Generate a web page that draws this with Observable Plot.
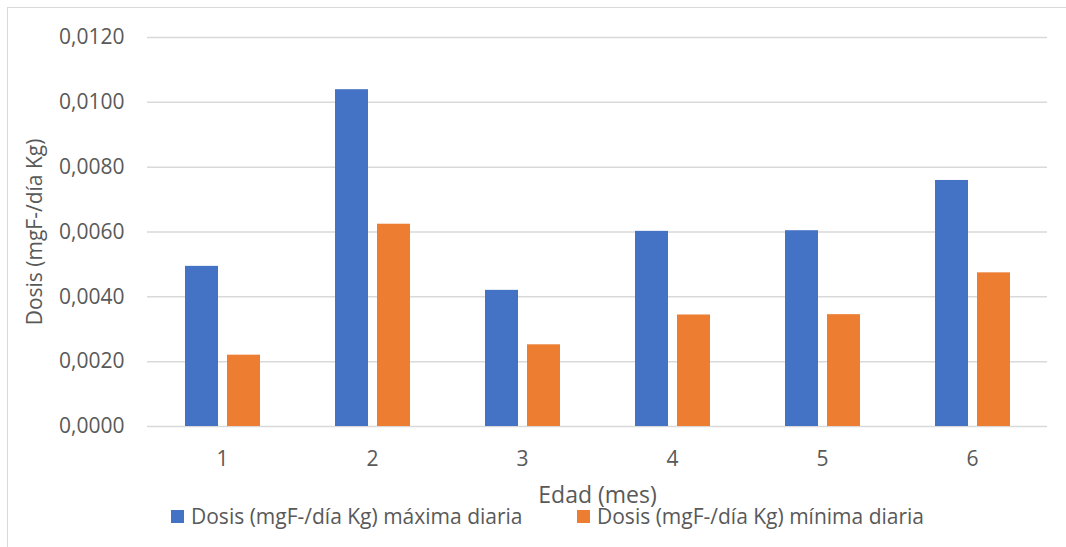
<!DOCTYPE html>
<html>
<head>
<meta charset="utf-8">
<script src="https://cdn.jsdelivr.net/npm/d3@7"></script>
<script src="https://cdn.jsdelivr.net/npm/@observablehq/plot@0.6"></script>
<style>
  html, body { margin: 0; padding: 0; background: #fff; }
  #wrap { position: relative; width: 1066px; height: 547px; overflow: hidden; font-family: "Open Sans", sans-serif; color: #595959; }
  #border { position: absolute; left: 7px; top: 7px; width: 1100px; height: 600px; border-left: 1.5px solid #d9d9d9; border-top: 1.5px solid #d9d9d9; pointer-events: none; }
  #chart svg { display: block; }
  #legend { position: absolute; left: 171px; top: 506px; height: 20px; display: flex; align-items: center; font-size: 21px; line-height: 20px; }
  .item { display: flex; align-items: center; white-space: nowrap; }
  .item .sw { width: 13px; height: 13px; margin-right: 7px; }
</style>
</head>
<body>
<div id="wrap">
  <div id="chart"></div>
  <div id="legend"></div>
  <div id="border"></div>
</div>
<script>
const meses = ["1", "2", "3", "4", "5", "6"];
const serieMax = "Dosis (mgF-/día Kg) máxima diaria";
const serieMin = "Dosis (mgF-/día Kg) mínima diaria";
const valoresMax = [0.00494, 0.01039, 0.00420, 0.00602, 0.00604, 0.00759];
const valoresMin = [0.00220, 0.00624, 0.00252, 0.00344, 0.00345, 0.00474];
const yTicks = [0, 0.002, 0.004, 0.006, 0.008, 0.010, 0.012];
const series = [serieMax, serieMin];
const colores = ["#4472C4", "#ED7D31"];

const data = [];
meses.forEach((m, i) => {
  data.push({mes: m, serie: serieMax, valor: valoresMax[i]});
  data.push({mes: m, serie: serieMin, valor: valoresMin[i]});
});

const fmt = d => d3.format(".4f")(d).replace(".", ",");

const chart = Plot.plot({
  width: 1066,
  height: 512,
  marginLeft: 147,
  marginRight: 19,
  marginTop: 37,
  marginBottom: 86,
  style: {fontFamily: "'Open Sans', sans-serif", fontSize: "21px", color: "#595959", background: "transparent"},
  fx: {
    domain: meses,
    padding: 0,
    label: "Edad (mes)",
    labelAnchor: "center",
    labelArrow: "none",
    labelOffset: 76,
    tickSize: 0,
    tickPadding: 25
  },
  x: {domain: series, paddingInner: 0.22, paddingOuter: 0.855, axis: null},
  y: {
    domain: [0, 0.012],
    ticks: yTicks,
    tickFormat: fmt,
    tickSize: 0,
    tickPadding: 23,
    label: "Dosis (mgF-/día Kg)",
    labelAnchor: "center",
    labelArrow: "none",
    labelOffset: 120
  },
  color: {domain: series, range: colores},
  marks: [
    Plot.ruleY(yTicks, {stroke: "#d9d9d9", strokeWidth: 1.5}),
    Plot.barY(data, {fx: "mes", x: "serie", y: "valor", fill: "serie"})
  ]
});
d3.select(chart).selectAll("text")
  .filter(function () { return this.textContent.trim() === "Edad (mes)"; })
  .attr("font-size", 23);
document.getElementById("chart").appendChild(chart);

const legend = document.getElementById("legend");
series.forEach((s, i) => {
  const it = document.createElement("div");
  it.className = "item";
  if (i === 0) it.style.width = "406px";
  const sw = document.createElement("span");
  sw.className = "sw";
  sw.style.background = colores[i];
  const tx = document.createElement("span");
  tx.textContent = s;
  it.appendChild(sw);
  it.appendChild(tx);
  legend.appendChild(it);
});
</script>
</body>
</html>
